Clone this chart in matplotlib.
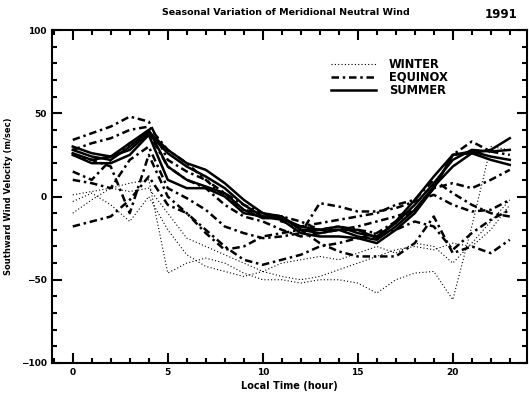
import matplotlib.pyplot as plt
import numpy as np
from matplotlib.ticker import MultipleLocator

plt.rcParams['font.family'] = ['DejaVu Sans']
plt.rcParams['font.weight'] = 'bold'

hours = np.arange(24)

# southward wind velocity (m/sec), read by eye, one row per night
winter = [
    [1, 3, 5, 8, 10, -46, -40, -37, -40, -46, -50, -50, -52, -50, -50, -52, -58, -50, -46, -45, -62, -18, 30, 28],
    [-3, 2, -5, -15, 0, -20, -35, -42, -45, -48, -45, -40, -38, -36, -38, -34, -30, -34, -28, -30, -40, -28, -15, -2],
    [-10, -2, 5, 3, 5, -10, -25, -30, -35, -40, -45, -48, -50, -48, -44, -40, -36, -32, -30, -32, -28, -30, -20, -5],
]
equinox = [
    [34, 38, 42, 48, 45, 22, 15, 10, 2, -5, -10, -12, -15, -20, -18, -20, -22, -15, -8, 5, 25, 33, 27, 25],
    [15, 10, 22, 32, 38, 18, 10, 5, -5, -12, -15, -20, -24, -22, -20, -18, -15, -12, -8, 5, 8, 5, 10, 16],
    [10, 8, 5, 22, 30, 5, -1, -8, -18, -22, -25, -24, -22, -4, -6, -9, -9, -7, -3, 1, -5, -9, -8, -2],
    [-18, -15, -12, -2, 12, -5, -10, -22, -32, -30, -24, -22, -20, -28, -33, -36, -36, -36, -28, -12, -34, -30, -34, -26],
    [25, 22, 18, -10, 25, 0, -10, -20, -30, -38, -41, -38, -35, -30, -28, -25, -22, -20, -15, -18, -32, -22, -14, -8],
    [28, 32, 35, 40, 42, 28, 20, 10, 0, -8, -10, -15, -18, -16, -14, -12, -10, -5, -2, 10, 2, -5, -10, -12],
]
summer = [
    [28, 24, 22, 30, 39, 28, 20, 16, 8, -2, -10, -12, -20, -22, -20, -20, -25, -15, -2, 12, 25, 26, 28, 35],
    [30, 26, 24, 28, 38, 26, 18, 12, 5, -5, -12, -12, -20, -20, -18, -22, -24, -16, -5, 8, 22, 28, 27, 28],
    [25, 20, 20, 25, 37, 10, 5, 5, 0, -10, -12, -14, -22, -24, -24, -25, -28, -20, -10, 5, 25, 27, 24, 22],
    [26, 22, 24, 32, 40, 18, 10, 6, 2, -8, -13, -13, -18, -20, -20, -24, -26, -18, -8, 6, 18, 26, 22, 19],
]

fig = plt.figure(figsize=(5.29, 4.0), dpi=100)
ax = fig.add_axes([0.098, 0.0925, 0.898, 0.8325])

for i, v in enumerate(winter):
    ax.plot(hours, v, color='black', lw=0.8, ls=(0, (1, 2)),
            label='WINTER' if i == 0 else None)
for i, v in enumerate(equinox):
    ax.plot(hours, v, color='black', lw=1.8, ls=(0, (3, 1.5, 1, 1.5)),
            label='EQUINOX' if i == 0 else None)
for i, v in enumerate(summer):
    ax.plot(hours, v, color='black', lw=1.8, ls='-',
            label='SUMMER' if i == 0 else None)

ax.set_xlim(-1.1, 23.9)
ax.set_ylim(-100, 100)
ax.xaxis.set_major_locator(MultipleLocator(5))
ax.xaxis.set_minor_locator(MultipleLocator(1))
ax.yaxis.set_major_locator(MultipleLocator(50))
ax.yaxis.set_minor_locator(MultipleLocator(10))
ax.tick_params(which='both', direction='in', top=True, right=True, width=1.5,
               labelsize=6.5)
ax.tick_params(which='major', length=7)
ax.tick_params(which='minor', length=3.5)
for s in ax.spines.values():
    s.set_linewidth(1.5)

ax.set_xlabel('Local Time (hour)', fontsize=7, fontweight='bold', labelpad=3)
ax.set_ylabel('Southward Wind Velocity (m/sec)', fontsize=6, fontweight='bold', labelpad=6)
fig.text(0.54, 0.968, 'Seasonal Variation of Meridional Neutral Wind',
         ha='center', va='center', fontsize=6.8, fontweight='bold')
fig.text(0.947, 0.965, '1991', ha='center', va='center', fontsize=8.5, fontweight='bold')

leg = ax.legend(loc='upper left', bbox_to_anchor=(0.578, 0.93), frameon=False,
                fontsize=8.3, handlelength=3.9, labelspacing=0.0, handletextpad=1.1,
                borderaxespad=0)
for t in leg.get_texts():
    t.set_fontweight('bold')

fig.savefig('out.png', dpi=100)
